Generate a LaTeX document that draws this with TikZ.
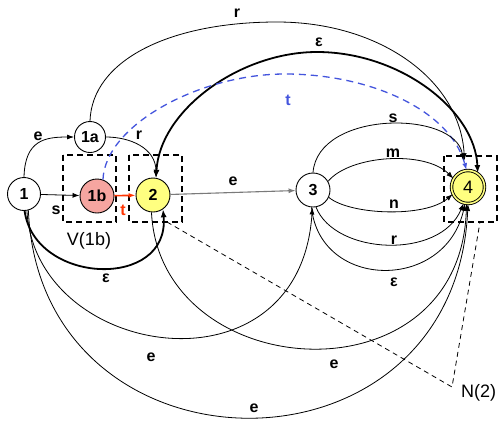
\documentclass[tikz,border=0pt]{standalone}
\usepackage{fontspec}
\setmainfont{Liberation Sans}
\usetikzlibrary{arrows.meta}
\definecolor{lemon}{HTML}{FFFF80}
\definecolor{salmon}{HTML}{F6A5A0}
\definecolor{signal}{HTML}{FF3300}
\definecolor{cobalt}{HTML}{4455DD}
\definecolor{slate}{HTML}{7A7A7A}

\begin{document}
\begin{tikzpicture}[x=1pt, y=-1pt,
    state/.style={circle, draw, line width=0.9pt, fill=white, minimum size=33pt, inner sep=0pt,
      font=\fontsize{16}{16}\selectfont\bfseries},
    lbl/.style={inner sep=0pt, font=\fontsize{16}{16}\selectfont\bfseries},
    tag/.style={inner sep=0pt, font=\fontsize{18}{18}\selectfont},
    arc/.style={line width=0.8pt, -{Latex[length=7pt,width=5pt]}},
    heavyarc/.style={line width=1.8pt, -{Latex[length=8pt,width=6pt]}},
    region/.style={line width=1.5pt, dash pattern=on 6pt off 4pt},
    hint/.style={line width=0.8pt, dash pattern=on 5pt off 4pt}]
  \useasboundingbox (0,0) rectangle (498,421);

  % states
  \node[state] (s1) at (24,194) {1};
  \node[state, minimum size=31pt] (s1a) at (90,137) {1a};
  \node[state, fill=salmon, minimum size=34pt] (s1b) at (97,196) {1b};
  \node[state, fill=lemon, minimum size=34pt] (s2) at (153,195) {2};
  \node[state, minimum size=34pt] (s3) at (313,190) {3};
  \node[state, fill=lemon, double=lemon, double distance=1.6pt, minimum size=33pt,
    font=\fontsize{18}{18}\selectfont] (s4) at (468,187) {4};

  % neighbourhood boxes
  \draw[region] (63,155) rectangle (116,222);
  \draw[region] (129,155) rectangle (182,222);
  \draw[region] (444,156) rectangle (497,222);
  \node[tag] (v1b) at (89,241) {V(1b)};
  \node[tag, anchor=west] (n2tag) at (461,393) {N(2)};
  \coordinate (hintA) at (167,222);
  \coordinate (hintB) at (452,387);
  \coordinate (hintC) at (480,222);
  \draw[hint] (hintA) -- (hintB) -- (hintC);

  % straight moves
  \draw[arc] (s1) -- (s1b);
  \draw[arc, signal, line width=1.6pt] (s1b) -- (s2);
  \draw[arc, slate, line width=1.1pt] (s2) -- (s3);

  % upper arcs
  \draw[arc] (s1.north) .. controls (25,140) and (45,137) .. (s1a.west);
  \draw[arc] (s1a.east) .. controls (130,137) and (156,148) .. (s2.80);
  \draw[arc, shorten >=10pt] (s1a.north) .. controls (92,60) and (170,22) .. (277,22)
    .. controls (380,22) and (460,80) .. (s4.100);
  \draw[heavyarc, {Latex[length=8pt,width=6pt]}-{Latex[length=8pt,width=6pt]}]
    (s2.80) .. controls (160,110) and (240,52) .. (317,52)
    .. controls (400,52) and (475,110) .. (s4.55);
  \draw[arc, cobalt, line width=1.3pt, dash pattern=on 7pt off 5pt]
    (s1b.70) .. controls (105,125) and (200,74) .. (285,74)
    .. controls (370,74) and (450,110) .. (s4.95);

  % from 3 to 4
  \draw[arc, shorten >=10pt] (s3.north) .. controls (318,110) and (455,110) .. (s4.100);
  \draw[arc] (s3.30) .. controls (350,155) and (425,150) .. (s4.150);
  \draw[arc] (s3.-25) .. controls (350,215) and (425,218) .. (s4.-155);
  \draw[arc] (s3.-80) .. controls (335,255) and (440,260) .. (s4.-105);
  \draw[arc] (s3.-95) .. controls (320,290) and (445,292) .. (s4.-100);

  % lower arcs
  \draw[heavyarc] (s1.-88) .. controls (35,285) and (170,290) .. (s2.-55);
  \draw[arc] (s1.-80) .. controls (35,360) and (300,400) .. (s3.-92);
  \draw[arc] (s2.-95) .. controls (160,385) and (460,405) .. (s4.-95);
  \draw[arc] (s1.-75) .. controls (40,485) and (455,490) .. (s4.-90);

  % labels
  \node[lbl] (le1) at (38,136) {e};
  \node[lbl] (lr1) at (139,135) {r};
  \node[lbl] (ls1) at (56,210) {s};
  \node[lbl, text=signal] (lt1) at (123,210) {t};
  \node[lbl] (le2) at (233,181) {e};
  \node[lbl] (lrtop) at (237,13) {r};
  \node[lbl] (leps1) at (319,42) {ε};
  \node[lbl, text=cobalt] (lt2) at (288,100) {t};
  \node[lbl] (ls3) at (393,118) {s};
  \node[lbl] (lm3) at (393,153) {m};
  \node[lbl] (ln3) at (394,204) {n};
  \node[lbl] (lr3) at (394,240) {r};
  \node[lbl] (leps3) at (394,282) {ε};
  \node[lbl] (leps2) at (106,278) {ε};
  \node[lbl] (le13) at (151,357) {e};
  \node[lbl] (le24) at (334,364) {e};
  \node[lbl] (le14) at (254,408) {e};
\end{tikzpicture}
\end{document}
